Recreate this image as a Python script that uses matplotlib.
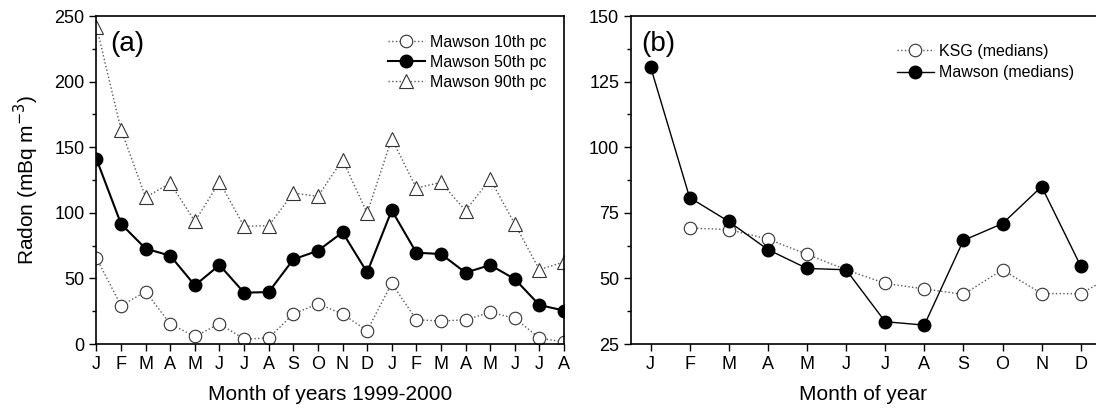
import matplotlib
matplotlib.use('Agg')
import matplotlib.pyplot as plt
import numpy as np
from matplotlib.ticker import MultipleLocator

plt.rcParams['font.family'] = ['Liberation Sans', 'DejaVu Sans']

# panel (a): monthly percentiles, Jan 1999 - Aug 2000
months_a = ['J', 'F', 'M', 'A', 'M', 'J', 'J', 'A', 'S', 'O', 'N', 'D',
            'J', 'F', 'M', 'A', 'M', 'J', 'J', 'A']
pc10 = [65.5, 29.2, 39.9, 15.2, 5.8, 15.5, 3.8, 4.6, 22.9, 30.7, 22.9, 10.2,
        46.2, 18.5, 17.5, 18.5, 24.1, 19.6, 4.6, 1.5]
pc50 = [141, 91.5, 72.7, 67.3, 44.7, 60.2, 39.1, 39.6, 64.5, 71.1, 85.1, 54.6,
        101.9, 69.6, 68.6, 54.4, 60.2, 49.5, 29.7, 25.5]
pc90 = [242, 163.4, 111.8, 122.7, 93.5, 123.5, 89.7, 90.2, 115.1, 112.5, 140.5, 99.8,
        156.5, 118.9, 123.2, 101.6, 125.8, 91.5, 56.7, 62.5]

# panel (b): monthly medians
months_b = ['J', 'F', 'M', 'A', 'M', 'J', 'J', 'A', 'S', 'O', 'N', 'D']
ksg_x = [1, 2, 3, 4, 5, 6, 7, 8, 9, 10, 11, 12]
ksg_med = [69.2, 68.6, 65.0, 59.2, 53.3, 48.1, 46.0, 43.9, 53.3, 44.2, 44.2, 52.5]
mawson_med = [130.7, 80.8, 71.7, 61.0, 53.8, 53.3, 33.5, 32.2, 64.5, 70.9, 85.0, 54.7]

fig = plt.figure(figsize=(10.96, 4.11), dpi=100)
ax1 = fig.add_axes([0.088, 0.163, 0.4266, 0.798])
ax2 = fig.add_axes([0.5757, 0.163, 0.4243, 0.798])

xa = np.arange(len(months_a))
ax1.plot(xa, pc10, ':', color='0.35', lw=1, marker='o', ms=9, mfc='white', mec='0.2', mew=0.8,
         label='Mawson 10th pc')
ax1.plot(xa, pc50, '-', color='black', lw=1.5, marker='o', ms=9, mfc='black', mec='black',
         label='Mawson 50th pc')
ax1.plot(xa, pc90, ':', color='0.35', lw=1, marker='^', ms=10, mfc='white', mec='0.2', mew=0.8,
         label='Mawson 90th pc')
ax1.set_xlim(0, len(months_a) - 1)
ax1.set_ylim(0, 250)
ax1.set_xticks(xa)
ax1.set_xticklabels(months_a)
ax1.yaxis.set_major_locator(MultipleLocator(50))
ax1.yaxis.set_minor_locator(MultipleLocator(25))
ax1.set_xlabel('Month of years 1999-2000', fontsize=15, labelpad=9)
ax1.set_ylabel('Radon (mBq m$^{-3}$)', fontsize=15, labelpad=10)
ax1.text(0.03, 0.955, '(a)', transform=ax1.transAxes, fontsize=20, va='top')
ax1.legend(loc='upper left', bbox_to_anchor=(388 / 1096, 1 - 35 / 411),
           bbox_transform=fig.transFigure, frameon=False, fontsize=11.5,
           handlelength=2.3, handletextpad=0.3, labelspacing=0.3,
           borderpad=0, borderaxespad=0)

xb = np.arange(len(months_b))
ax2.plot(ksg_x, ksg_med, ':', color='0.35', lw=1, marker='o', ms=9, mfc='white', mec='0.2', mew=0.8,
         label='KSG (medians)')
ax2.plot(xb, mawson_med, '-', color='black', lw=1, marker='o', ms=9, mfc='black', mec='black',
         label='Mawson (medians)')
ax2.set_xlim(-0.5, 11.39)
ax2.set_ylim(25, 150)
ax2.set_xticks(xb)
ax2.set_xticklabels(months_b)
ax2.yaxis.set_major_locator(MultipleLocator(25))
ax2.yaxis.set_minor_locator(MultipleLocator(12.5))
ax2.set_xlabel('Month of year', fontsize=15, labelpad=9)
ax2.text(0.022, 0.955, '(b)', transform=ax2.transAxes, fontsize=20, va='top')
ax2.spines['right'].set_visible(False)
ax2.legend(loc='upper left', bbox_to_anchor=(897 / 1096, 1 - 44 / 411),
           bbox_transform=fig.transFigure, frameon=False, fontsize=11.5,
           handlelength=2.3, handletextpad=0.3, labelspacing=0.4,
           borderpad=0, borderaxespad=0)

for ax in (ax1, ax2):
    ax.tick_params(which='major', direction='out', length=5, width=1, labelsize=13)
    ax.tick_params(which='minor', direction='out', length=3, width=1)
    ax.tick_params(axis='x', which='minor', bottom=False)
    for s in ax.spines.values():
        s.set_linewidth(1.2)

plt.savefig('out.png', dpi=100)
